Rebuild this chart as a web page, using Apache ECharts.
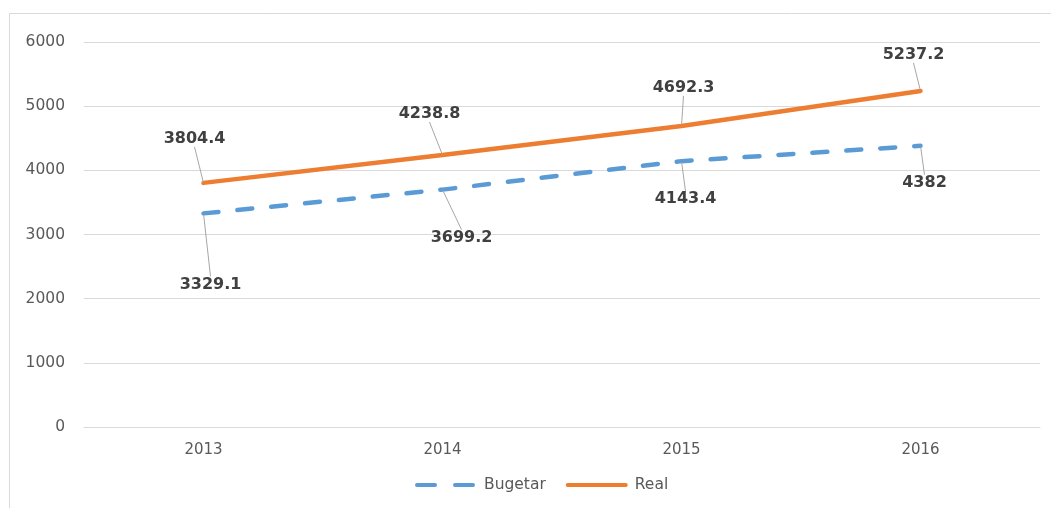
<!DOCTYPE html>
<html>
<head>
<meta charset="utf-8">
<script src="https://cdn.jsdelivr.net/npm/echarts@6/dist/echarts.min.js"></script>
<style>
html,body{margin:0;padding:0;background:#fff;}
#main{width:1051px;height:508px;}
</style>
</head>
<body>
<div id="main"></div>
<script>
const categories = ['2013', '2014', '2015', '2016'];
const bugetar = [3329.1, 3699.2, 4143.4, 4382];
const real = [3804.4, 4238.8, 4692.3, 5237.2];
const yTicks = { min: 0, max: 6000, interval: 1000 };

// label offsets (styling, relative to default label position)
const realLabelShift = [[-9, -30], [-13, -27], [2, -24], [-7, -22]];
const budgLabelShift = [[7, 57], [19, 34], [4, 24], [4, 23]];

const chart = echarts.init(document.getElementById('main'));
const FONT = '"DejaVu Sans", sans-serif';
const labelFont = { fontFamily: FONT, fontSize: 16, fontWeight: 'bold', color: '#404040' };
const leader = { show: true, lineStyle: { color: '#a6a6a6', width: 1 } };

chart.setOption({
  animation: false,
  graphic: [{
    type: 'rect', shape: { x: 9.5, y: 13.5, width: 1100, height: 600 },
    style: { fill: 'none', stroke: '#d9d9d9', lineWidth: 1 }, silent: true
  }],
  grid: { left: 84, right: 11, top: 42, bottom: 81, containLabel: false },
  legend: {
    bottom: 10, left: 410, itemWidth: 58, itemHeight: 14, itemGap: 20,
    itemStyle: { opacity: 0 },
    lineStyle: { width: 4, cap: 'round', type: [18, 20] },
    textStyle: { fontFamily: FONT, fontSize: 15.5, color: '#595959', padding: [0, 0, 0, 4] },
    data: [
      { name: 'Bugetar' },
      { name: 'Real', lineStyle: { type: 'solid' } }
    ]
  },
  xAxis: {
    type: 'category', data: categories, boundaryGap: true,
    axisLine: { show: true, lineStyle: { color: '#d9d9d9', width: 1 } },
    axisTick: { show: false },
    axisLabel: { fontFamily: FONT, fontSize: 15, color: '#595959', margin: 16 }
  },
  yAxis: {
    type: 'value', min: yTicks.min, max: yTicks.max, interval: yTicks.interval,
    axisLine: { show: false }, axisTick: { show: false },
    splitLine: { lineStyle: { color: '#d9d9d9', width: 1 } },
    axisLabel: { fontFamily: FONT, fontSize: 15.5, color: '#595959', margin: 19,
      formatter: function (v) { return String(v); } }
  },
  series: [
    {
      name: 'Bugetar', type: 'line', data: bugetar, symbol: 'circle', symbolSize: 2, showSymbol: true,
      lineStyle: { color: '#5B9BD5', width: 4.5, type: [15, 19], cap: 'round' },
      itemStyle: { color: '#5B9BD5' },
      label: Object.assign({ show: true, position: 'bottom', distance: 5 }, labelFont),
      labelLine: leader,
      labelLayout: function (p) { const s = budgLabelShift[p.dataIndex]; return { dx: s[0], dy: s[1] }; }
    },
    {
      name: 'Real', type: 'line', data: real, symbol: 'circle', symbolSize: 2, showSymbol: true,
      lineStyle: { color: '#ED7D31', width: 4.5, cap: 'round' },
      itemStyle: { color: '#ED7D31' },
      label: Object.assign({ show: true, position: 'top', distance: 5 }, labelFont),
      labelLine: leader,
      labelLayout: function (p) { const s = realLabelShift[p.dataIndex]; return { dx: s[0], dy: s[1] }; }
    }
  ]
});
</script>
</body>
</html>
